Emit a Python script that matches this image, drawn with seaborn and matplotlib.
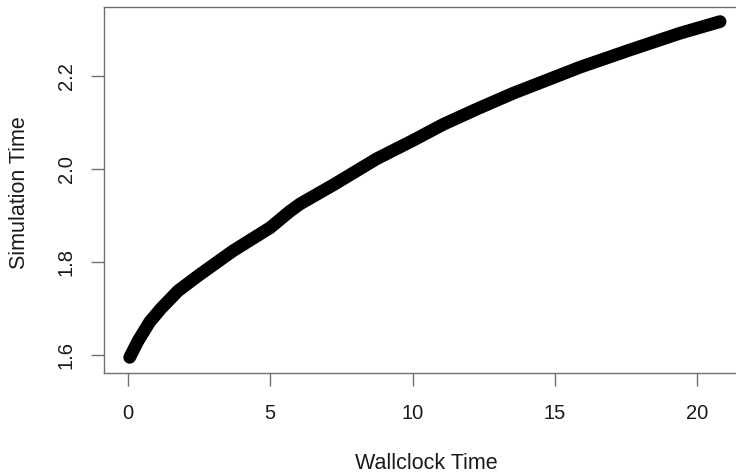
import numpy as np
import pandas as pd
import matplotlib
matplotlib.use("Agg")
import matplotlib.pyplot as plt
import seaborn as sns

# Data
wallclock = [0.06, 0.35, 0.76, 1.16, 1.76, 2.5, 3.69, 5.0, 5.69, 6.05, 7.22,
             8.74, 10.0, 11.08, 12.3, 13.54, 14.13, 15.89, 17.64, 19.40, 20.81]
simtime = [1.595, 1.630, 1.671, 1.700, 1.738, 1.772, 1.824, 1.874, 1.909, 1.925, 1.966,
           2.022, 2.061, 2.096, 2.130, 2.163, 2.177, 2.219, 2.256, 2.292, 2.317]
x_ticks = [0, 5, 10, 15, 20]
x_ticklabels = ["0", "5", "10", "15", "20"]
y_ticks = [1.6, 1.8, 2.0, 2.2]
y_ticklabels = ["1.6", "1.8", "2.0", "2.2"]
x_label = "Wallclock Time"
y_label = "Simulation Time"

df = pd.DataFrame({"Wallclock Time": wallclock, "Simulation Time": simtime})

sns.set_theme(style="ticks")
plt.rcParams["font.family"] = ["Liberation Sans", "DejaVu Sans"]

W, H = 736, 474
fig = plt.figure(figsize=(W / 100, H / 100), dpi=100)
left_px, right_px, top_px, bottom_px = 104, 740, 7, 373
ax = fig.add_axes([left_px / W, (H - bottom_px) / H,
                   (right_px - left_px) / W, (bottom_px - top_px) / H])

sns.lineplot(data=df, x="Wallclock Time", y="Simulation Time", ax=ax,
             color="black", linewidth=9.2, solid_capstyle="round",
             solid_joinstyle="round", sort=False, estimator=None)

ax.set_xlim(-0.844, 21.51)
ax.set_ylim(1.5613, 2.3484)

spine_col = "#707070"
for s in ["left", "bottom", "top", "right"]:
    ax.spines[s].set_color(spine_col)
    ax.spines[s].set_linewidth(1.0)

ax.set_xticks(x_ticks)
ax.set_yticks(y_ticks)
ax.set_xticklabels(x_ticklabels, va="baseline")
ax.set_yticklabels(y_ticklabels, rotation=90, rotation_mode="anchor",
                   ha="center", va="baseline")
ax.tick_params(axis="both", direction="out", length=9.4, width=1.0,
               color=spine_col, labelsize=14.5, labelcolor="#1a1a1a")
ax.tick_params(axis="x", pad=23.8)
ax.tick_params(axis="y", pad=13.7)

ax.set_xlabel(x_label, fontsize=15.5, color="#1a1a1a", va="baseline")
ax.set_ylabel(y_label, fontsize=15.5, color="#1a1a1a", va="baseline")
ax.xaxis.set_label_coords((426 - left_px) / (right_px - left_px),
                          -(469 - bottom_px) / (bottom_px - top_px))
ax.yaxis.set_label_coords(-(left_px - 25) / (right_px - left_px),
                          (bottom_px - 193) / (bottom_px - top_px))

fig.savefig("out.png", dpi=100)
